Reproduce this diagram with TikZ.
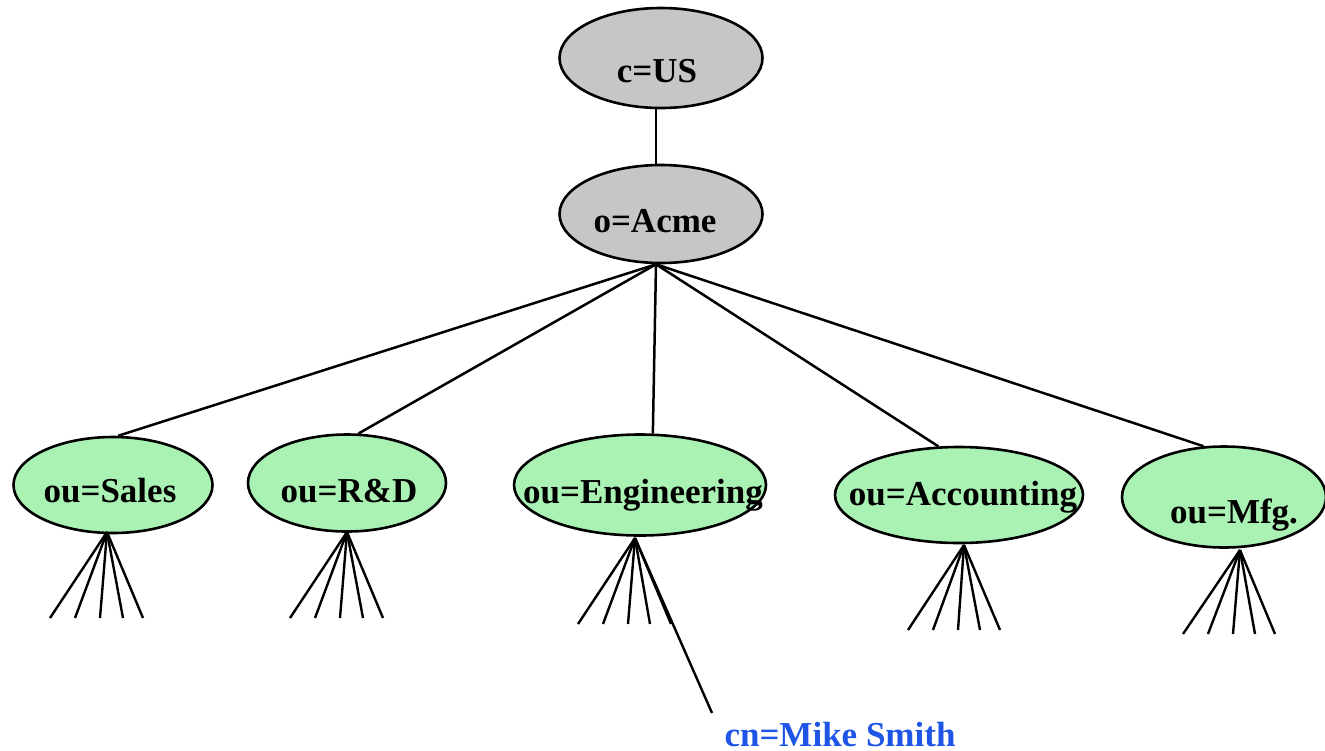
\documentclass[tikz,border=0pt]{standalone}
\usepackage{fontspec}
\setmainfont{Liberation Serif}
\usetikzlibrary{shapes.geometric,calc}
\definecolor{topgray}{RGB}{198,198,198}
\definecolor{ougreen}{RGB}{170,242,180}
\definecolor{cnblue}{RGB}{30,85,230}
\begin{document}
\begin{tikzpicture}[x=1pt,y=-1pt,
  ell/.style={ellipse,draw=black,line width=2.6pt,inner sep=0pt},
  grayell/.style={ell,fill=topgray},
  greenell/.style={ell,fill=ougreen},
  lbl/.style={anchor=base,inner sep=0pt,font=\fontsize{35}{40}\selectfont\bfseries},
  edge/.style={line width=2.5pt,black},
  fan/.style={line width=2.4pt,black}]
\useasboundingbox (0,0) rectangle (1325,750);
% top
\node[grayell,minimum width=203pt,minimum height=100pt] (us) at (661,58) {};
\node[lbl] (ust) at (657,82) {c=US};
\node[grayell,minimum width=203pt,minimum height=98pt] (acme) at (661,214) {};
\node[lbl] (acmet) at (655,232) {o=Acme};
% ou nodes
\node[greenell,minimum width=199pt,minimum height=96pt] (sales) at (113,485) {};
\node[lbl] (salest) at (110,502) {ou=Sales};
\node[greenell,minimum width=198pt,minimum height=97pt] (rd) at (347,483) {};
\node[lbl] (rdt) at (349,502) {ou=R\&D};
\node[greenell,minimum width=252pt,minimum height=101pt] (eng) at (640,485) {};
\node[lbl] (engt) at (643,503) {ou=Engineering};
\node[greenell,minimum width=248pt,minimum height=96pt] (acc) at (959,495) {};
\node[lbl] (acct) at (963,505) {ou=Accounting};
\node[greenell,minimum width=204pt,minimum height=101pt] (mfg) at (1224,497) {};
\node[lbl] (mfgt) at (1234,523) {ou=Mfg.};
% cn
\node[lbl,text=cnblue] (cn) at (840,746) {cn=Mike Smith};
% connectors
\coordinate (hub) at ($(acme.south)+(-5,0)$);
\draw[edge] ($(us.south)+(-5,0)$) -- ($(acme.north)+(-5,0)$);
\draw[edge] (hub) -- (sales.84);
\draw[edge] (hub) -- (rd.77);
\draw[edge] (hub) -- (eng.76);
\draw[edge] (hub) -- (acc.113);
\draw[edge] (hub) -- (mfg.112);
% fans
\coordinate (sa) at (107,532);
\foreach \x in {50,75,100,123,143} \draw[fan] (sa) -- (\x,618);
\coordinate (ra) at (347,532);
\foreach \x in {290,315,340,363,383} \draw[fan] (ra) -- (\x,618);
\coordinate (ea) at (635,538);
\foreach \x in {578,603,628,650,671} \draw[fan] (ea) -- (\x,624);
\coordinate (cnend) at (712,713);
\draw[fan] (ea) -- (cnend);
\coordinate (aa) at (964,545);
\foreach \x in {908,933,958,980,1000} \draw[fan] (aa) -- (\x,630);
\coordinate (ma) at (1240,550);
\foreach \x in {1183,1208,1233,1255,1275} \draw[fan] (ma) -- (\x,634);
\end{tikzpicture}
\end{document}
